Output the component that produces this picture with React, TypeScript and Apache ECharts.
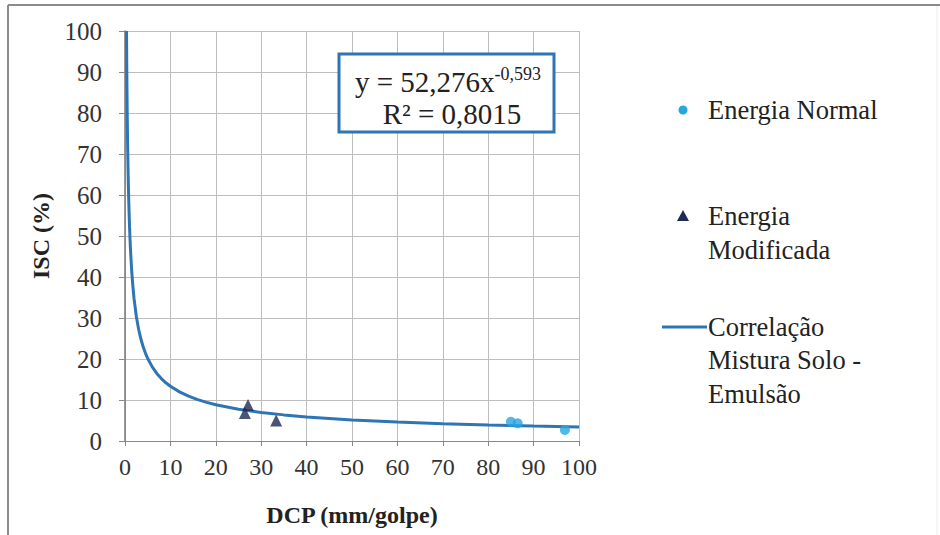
import React, { useEffect, useRef } from "react";
import * as echarts from "echarts";

const xTicks = [0, 10, 20, 30, 40, 50, 60, 70, 80, 90, 100];
const energiaNormal: number[][] = [
  [85.0, 4.7],
  [86.5, 4.3],
  [96.9, 2.7],
];
const energiaModificada: number[][] = [
  [26.4, 6.8],
  [27.1, 8.8],
  [33.3, 5.0],
];
// points read along the fitted trend line y = 52,276x^-0,593
const curveX = [0.335, 0.37, 0.4, 0.45, 0.5, 0.55, 0.6, 0.68, 0.75, 0.85, 1, 1.1, 1.2, 1.35, 1.5, 1.75, 2, 2.5, 3, 3.5, 4, 4.5, 5, 6, 7, 8, 9, 10, 12, 14, 16, 18, 20, 25, 30, 35, 40, 50, 60, 70, 80, 90, 100];
const curveY = [100, 94.3, 90.0, 83.9, 78.85, 74.5, 70.77, 65.8, 62.0, 57.57, 52.28, 49.4, 46.92, 43.9, 41.1, 37.6, 34.66, 30.36, 27.25, 24.87, 22.98, 21.44, 20.13, 18.07, 16.49, 15.23, 14.2, 13.35, 11.98, 10.94, 10.1, 9.43, 8.85, 7.75, 6.96, 6.37, 5.87, 5.14, 4.61, 4.21, 3.89, 3.63, 3.41];

const FONT = "Liberation Serif";
const C_NORMAL = "#27a6df";
const C_MOD = "#1c2a55";
const C_LINE = "#2e75b6";

export default function App() {
  const ref = useRef<HTMLDivElement>(null);
  useEffect(() => {
    if (!ref.current) return;
    const chart = echarts.init(ref.current, null, { renderer: "svg" });
    const curve = curveX.map((x, i) => [x, curveY[i]]);
    chart.setOption({
      animation: false,
      backgroundColor: "#ffffff",
      textStyle: { fontFamily: FONT },
      grid: { left: 125, right: 361, top: 31, bottom: 94 },
      xAxis: {
        type: "value",
        min: 0,
        max: 100,
        interval: 10,
        name: "DCP (mm/golpe)",
        nameLocation: "middle",
        nameGap: 62,
        nameTextStyle: { fontFamily: FONT, fontSize: 24, fontWeight: "bold", color: "#222" },
        axisLine: { show: true, onZero: false, lineStyle: { color: "#888", width: 1 } },
        axisTick: { show: true, length: 5, lineStyle: { color: "#888" } },
        axisLabel: { fontFamily: FONT, fontSize: 24, color: "#333", margin: 14 },
        splitLine: { show: true, lineStyle: { color: "#bdbdbd", width: 1 } },
      },
      yAxis: {
        type: "value",
        min: 0,
        max: 100,
        interval: 10,
        name: "ISC (%)",
        nameLocation: "middle",
        nameGap: 72,
        nameRotate: 90,
        nameTextStyle: { fontFamily: FONT, fontSize: 24, fontWeight: "bold", color: "#222" },
        axisLine: { show: true, onZero: false, lineStyle: { color: "#777", width: 1.5 } },
        axisTick: { show: true, length: 6, lineStyle: { color: "#888" } },
        axisLabel: { fontFamily: FONT, fontSize: 25, color: "#333", margin: 23 },
        splitLine: { show: true, lineStyle: { color: "#bdbdbd", width: 1 } },
      },
      series: [
        {
          name: "Correlação Mistura Solo - Emulsão",
          type: "line",
          data: curve,
          showSymbol: false,
          smooth: false,
          lineStyle: { color: C_LINE, width: 3 },
          z: 3,
        },
        {
          name: "Energia Modificada",
          type: "scatter",
          data: energiaModificada,
          symbol: "triangle",
          symbolSize: 12,
          itemStyle: { color: C_MOD },
          z: 4,
        },
        {
          name: "Energia Normal",
          type: "scatter",
          data: energiaNormal,
          symbol: "circle",
          symbolSize: 10,
          itemStyle: { color: C_NORMAL },
          z: 4,
        },
      ],
      graphic: [
        { type: "line", shape: { x1: 8, y1: 5, x2: 940, y2: 5 }, style: { stroke: "#8c8c8c", lineWidth: 2 } },
        { type: "line", shape: { x1: 8, y1: 5, x2: 8, y2: 535 }, style: { stroke: "#8c8c8c", lineWidth: 2 } },
        { type: "line", shape: { x1: 937, y1: 6, x2: 937, y2: 535 }, style: { stroke: "#ececec", lineWidth: 1 } },
        {
          type: "rect",
          shape: { x: 339, y: 54, width: 215, height: 78 },
          style: { fill: "#ffffff", stroke: C_LINE, lineWidth: 3 },
          z: 10,
        },
        {
          type: "text",
          x: 448,
          y: 79,
          z: 11,
          style: {
            text: "{a|y = 52,276x}{s|-0,593}",
            align: "center",
            verticalAlign: "middle",
            rich: {
              a: { fontFamily: FONT, fontSize: 29, fill: "#222", padding: [6, 0, 0, 0] },
              s: { fontFamily: FONT, fontSize: 18, fill: "#222", padding: [0, 0, 11, 0] },
            },
          },
        },
        {
          type: "text",
          x: 452,
          y: 114,
          z: 11,
          style: {
            text: "R² = 0,8015",
            align: "center",
            verticalAlign: "middle",
            fontFamily: FONT,
            fontSize: 29,
            fill: "#222",
          },
        },
        { type: "circle", shape: { cx: 683, cy: 110, r: 4.5 }, style: { fill: C_NORMAL } },
        {
          type: "text",
          x: 708,
          y: 110,
          style: { text: "Energia Normal", fontFamily: FONT, fontSize: 26.5, fill: "#222", verticalAlign: "middle" },
        },
        {
          type: "polygon",
          shape: { points: [[683, 210], [689, 221], [677, 221]] },
          style: { fill: C_MOD },
        },
        {
          type: "text",
          x: 708,
          y: 199,
          style: {
            text: "Energia\nModificada",
            fontFamily: FONT,
            fontSize: 26.5,
            lineHeight: 34,
            fill: "#222",
            verticalAlign: "top",
          },
        },
        { type: "line", shape: { x1: 662, y1: 327, x2: 707, y2: 327 }, style: { stroke: C_LINE, lineWidth: 3 } },
        {
          type: "text",
          x: 708,
          y: 310,
          style: {
            text: "Correlação\nMistura Solo -\nEmulsão",
            fontFamily: FONT,
            fontSize: 26.5,
            lineHeight: 33.5,
            fill: "#222",
            verticalAlign: "top",
          },
        },
      ],
    });
    return () => chart.dispose();
  }, []);
  return (
    <div
      ref={ref}
      style={{ position: "absolute", left: 0, top: 0, width: 940, height: 535 }}
    />
  );
}
